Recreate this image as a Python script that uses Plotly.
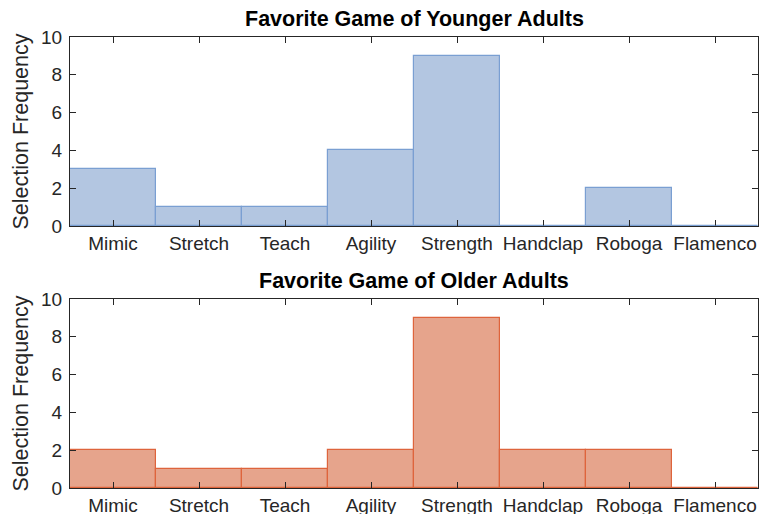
import plotly.graph_objects as go
from plotly.subplots import make_subplots

# Datos
juegos = ["Mimic", "Stretch", "Teach", "Agility", "Strength", "Handclap", "Roboga", "Flamenco"]
jovenes = [3, 1, 1, 4, 9, 0, 2, 0]
mayores = [2, 1, 1, 2, 9, 2, 2, 0]
titulos = ["Favorite Game of Younger Adults", "Favorite Game of Older Adults"]

# Colores
relleno = ["rgb(179,198,225)", "rgb(230,164,140)"]
borde = ["rgb(122,159,210)", "rgb(222,100,60)"]
gris = "#262626"
fuente = "Liberation Sans, Arial"

fig = make_subplots(rows=2, cols=1, vertical_spacing=0.1)

for i, valores in enumerate([jovenes, mayores]):
    fig.add_trace(go.Bar(x=juegos, y=valores, width=1,
                         marker=dict(color=relleno[i], line=dict(color=borde[i], width=1.2))),
                  row=i + 1, col=1)
    # barras de altura cero: solo la linea en la base
    for k, v in enumerate(valores):
        if v == 0:
            fig.add_shape(type="line", x0=k - 0.5, x1=k + 0.5, y0=0, y1=0,
                          line=dict(color=borde[i], width=1.2), row=i + 1, col=1)

# la pagina tiene 8px de margen en el body
alto = 506
dominios = [[1 - 218 / alto, 1 - 29 / alto], [1 - 480 / alto, 1 - 291 / alto]]
for i in range(2):
    n = "" if i == 0 else "2"
    fig.layout["xaxis" + n].update(
        range=[-0.5, 7.5], ticks="inside", ticklen=6, tickcolor=gris, mirror="ticks",
        showline=True, linecolor=gris, linewidth=1, showgrid=False, automargin=False,
        tickfont=dict(size=19, color=gris, family=fuente))
    fig.layout["yaxis" + n].update(
        domain=dominios[i], range=[0, 10], dtick=2, ticks="inside", ticklen=6, tickcolor=gris,
        mirror="ticks", showline=True, linecolor=gris, linewidth=1, showgrid=False,
        zeroline=False, automargin=False, ticklabelstandoff=3,
        tickfont=dict(size=19, color=gris, family=fuente),
        title=dict(text="Selection Frequency", standoff=6,
                   font=dict(size=21.5, color=gris, family=fuente)))
    fig.add_annotation(text="<b>" + titulos[i] + "</b>", xref="paper", yref="paper",
                       x=0.5, y=dominios[i][1], yshift=4, yanchor="bottom", showarrow=False,
                       font=dict(size=21.5, color="black", family=fuente))

fig.update_layout(width=759, height=alto, showlegend=False, bargap=0,
                  plot_bgcolor="white", paper_bgcolor="white",
                  margin=dict(l=62, r=9, t=0, b=0))

fig.write_html("out.html")
